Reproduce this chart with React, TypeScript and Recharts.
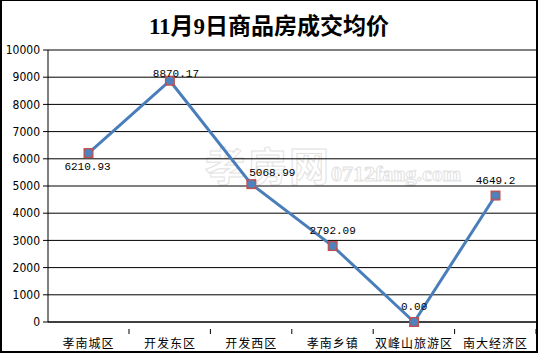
import { LineChart, Line, XAxis, YAxis, CartesianGrid } from "recharts"

const districts = ["孝南城区", "开发东区", "开发西区", "孝南乡镇", "双峰山旅游区", "南大经济区"]
const avgPrices = [6210.93, 8870.17, 5068.99, 2792.09, 0, 4649.2]
const priceLabels = ["6210.93", "8870.17", "5068.99", "2792.09", "0.00", "4649.2"]
const yTicks = [0, 1000, 2000, 3000, 4000, 5000, 6000, 7000, 8000, 9000, 10000]

const data = districts.map((name, i) => ({ name, price: avgPrices[i], label: priceLabels[i] }))

// label placement tweaks (dx, dy) — first one sits under its point, like in the original
const labelShift = [
  [-1, 29],
  [6, 8],
  [21, 4],
  [0, 0],
  [0, 0],
  [0, 0],
]

const Marker = ({ cx, cy, index }: any) => {
  if (cx == null || cy == null) return null
  return (
    <g key={`m-${index}`}>
      <rect x={cx - 5} y={cy - 5} width={10} height={10} fill="#c0504d" />
      <circle cx={cx} cy={cy} r={4} fill="#4f81bd" />
    </g>
  )
}

const ValueLabel = ({ x, y, index }: any) => {
  const [dx, dy] = labelShift[index] || [0, 0]
  return (
    <text
      x={x + dx}
      y={y - 12 + dy}
      textAnchor="middle"
      fontFamily="'Liberation Mono', monospace"
      fontSize={11}
      fill="#000"
    >
      {priceLabels[index]}
    </text>
  )
}

const CategoryTick = ({ x, y, payload }: any) => {
  return (
    <g>
      <line x1={x + 40.5} y1={y - 1} x2={x + 40.5} y2={y + 4} stroke="#000" />
      <text
        x={x}
        y={y + 18}
        textAnchor="middle"
        fontFamily="'Noto Sans CJK SC', sans-serif"
        fontSize={12}
        letterSpacing={1}
        fill="#000"
      >
        {payload.value}
      </text>
    </g>
  )
}

export default function App() {
  return (
    <div
      style={{
        position: "absolute",
        top: 0,
        left: 0,
        width: 538,
        height: 353,
        boxSizing: "border-box",
        borderStyle: "solid",
        borderColor: "#000",
        borderWidth: "1px 2px 2px 2px",
        background: "#fff",
        overflow: "hidden",
      }}
    >
      <div
        style={{
          position: "absolute",
          top: 6,
          left: 0,
          width: 534,
          textAlign: "center",
          fontFamily: "'Liberation Serif', 'Noto Sans CJK SC', serif",
          fontWeight: "bold",
          fontSize: 23,
          color: "#000",
        }}
      >
        11月9日商品房成交均价
      </div>
      <div
        style={{
          position: "absolute",
          top: 134,
          left: 203,
          fontFamily: "'Noto Sans CJK SC', sans-serif",
          fontSize: 40,
          fontWeight: "bold",
          color: "transparent",
          WebkitTextStroke: "1px #e2e2e2",
          whiteSpace: "nowrap",
          letterSpacing: 2,
        }}
      >
        孝房网
        <span style={{ fontSize: 22, fontFamily: "'Liberation Serif', serif", letterSpacing: 0 }}>0712fang.com</span>
      </div>
      <div style={{ position: "absolute", top: 0, left: 0 }}>
        <LineChart width={534} height={350} data={data} margin={{ top: 49, right: 0, left: 0, bottom: 0 }}>
          <CartesianGrid vertical={false} stroke="#000" strokeWidth={1} />
          <XAxis
            dataKey="name"
            height={29}
            padding={{ left: 40.5, right: 40.5 }}
            axisLine={{ stroke: "#000" }}
            tickLine={false}
            tick={<CategoryTick />}
            interval={0}
          />
          <YAxis
            width={46}
            domain={[0, 10000]}
            ticks={yTicks}
            interval={0}
            axisLine={{ stroke: "#000" }}
            tickLine={{ stroke: "#000" }}
            tickSize={5}
            tickMargin={3}
            tick={{ fill: "#000", fontSize: 12, fontFamily: "'DejaVu Sans Condensed', 'DejaVu Sans', sans-serif" }}
          />
          <Line
            type="linear"
            dataKey="price"
            stroke="#4a7ebb"
            strokeWidth={3}
            dot={<Marker />}
            activeDot={false}
            label={<ValueLabel />}
            isAnimationActive={false}
          />
        </LineChart>
      </div>
    </div>
  )
}
